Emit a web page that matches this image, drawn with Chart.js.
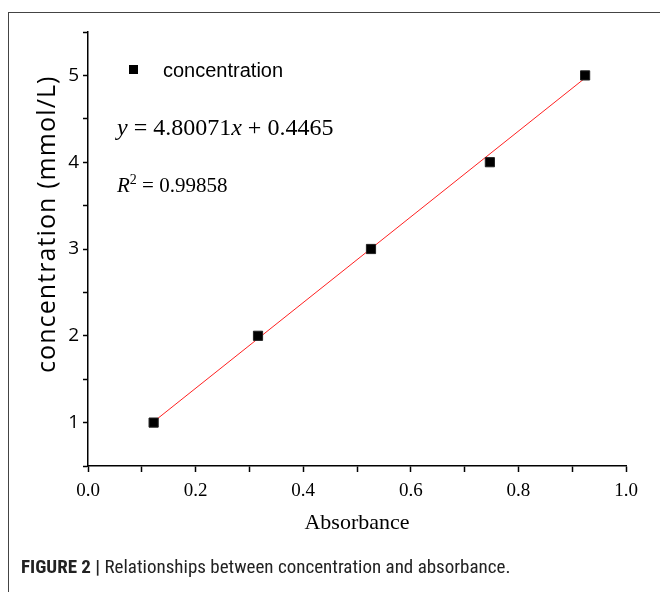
<!DOCTYPE html>
<html>
<head>
<meta charset="utf-8">
<script src="https://cdn.jsdelivr.net/npm/chart.js@4/dist/chart.umd.min.js"></script>
<style>
  body { margin: 0; background: #fff; overflow: hidden; }
  #wrap { position: relative; width: 660px; height: 592px; }
  #frame { position: absolute; left: 8px; top: 12px; width: 700px; height: 700px; border: 1.5px solid #444; }
  #chart { position: absolute; left: 0; top: 0; }
  .note { position: absolute; white-space: nowrap; color: #000; line-height: 1; }
  #legend { left: 129px; top: 59px; font: 20px "Liberation Sans", Arial, sans-serif; }
  #legend span.box { display: inline-block; width: 9px; height: 9px; background: #000; margin-right: 25px; vertical-align: 3px; }
  #eq { left: 117px; top: 114px; font: 24px "Liberation Serif", "Times New Roman", serif; }
  #r2 { left: 117px; top: 173px; font: 21px "Liberation Serif", "Times New Roman", serif; }
  #r2 sup { font-size: 14px; vertical-align: 8px; line-height: 0; }
  #caption { left: 21px; top: 555px; font: 19px "Liberation Sans Narrow", "Roboto Condensed", "Liberation Sans", sans-serif; color: #222; }
</style>
</head>
<body>
<div id="wrap">
  <div id="frame"></div>
  <canvas id="chart" width="660" height="592"></canvas>
  <div class="note" id="legend"><span class="box"></span>concentration</div>
  <div class="note" id="eq"><i>y</i> = 4.80071<i>x</i> + 0.4465</div>
  <div class="note" id="r2"><i>R</i><sup>2</sup> = 0.99858</div>
  <div class="note" id="caption"><b>FIGURE 2 |</b> Relationships between concentration and absorbance.</div>
</div>
<script>
// measured points (absorbance vs concentration)
const absorbance = [0.122, 0.316, 0.526, 0.747, 0.924];
const concentration = [1, 2, 3, 4, 5];

// fitted line endpoints as drawn in the figure
const fitX = [0.122, 0.924];
const fitY = [1.01, 4.97];

const xTitle = 'Absorbance';
const yTitle = 'concentration (mmol/L)';

const pts = absorbance.map((a, i) => ({ x: a, y: concentration[i] }));
const fit = fitX.map((a, i) => ({ x: a, y: fitY[i] }));

// axis titles drawn by hand so they can sit where the original has them
const axisTitles = {
    id: 'axisTitles',
    afterDraw(chart) {
        const c = chart.ctx;
        const area = chart.chartArea;
        c.save();
        c.fillStyle = '#000';
        c.textAlign = 'center';
        c.textBaseline = 'middle';
        c.font = '22px "Liberation Serif", serif';
        c.fillText(xTitle, (area.left + area.right) / 2, 523);
        c.translate(48, area.top + area.height * 0.443);
        c.rotate(-Math.PI / 2);
        c.font = '25px "Open Sans", sans-serif';
        c.letterSpacing = '1.1px';
        c.fillText(yTitle, 0, 0);
        c.restore();
    }
};

new Chart(document.getElementById('chart'), {
    type: 'scatter',
    data: {
        datasets: [
            {
                type: 'line',
                data: fit,
                borderColor: '#ff2020',
                borderWidth: 1,
                pointRadius: 0,
                order: 2
            },
            {
                data: pts,
                pointStyle: 'rect',
                pointRadius: 6.5,
                backgroundColor: '#000',
                borderColor: '#222',
                borderWidth: 1,
                order: 1
            }
        ]
    },
    options: {
        responsive: false,
        animation: false,
        layout: { padding: { top: 32, right: 34, bottom: 0, left: 0 } },
        plugins: { legend: { display: false }, tooltip: { enabled: false } },
        scales: {
            x: {
                type: 'linear',
                min: 0, max: 1,
                afterFit: s => { s.height = 126; },
                border: { color: '#000', width: 1.5 },
                grid: { drawOnChartArea: false, drawTicks: true, tickLength: 6, tickColor: '#000', tickWidth: 1.5 },
                ticks: {
                    stepSize: 0.1,
                    padding: 8,
                    color: '#000',
                    maxRotation: 0,
                    autoSkip: false,
                    font: { family: '"Liberation Serif", serif', size: 19 },
                    callback: (v, i) => i % 2 === 0 ? v.toFixed(1) : ''
                }
            },
            y: {
                type: 'linear',
                min: 0.5, max: 5.5,
                afterFit: s => { s.width = 88; },
                border: { color: '#000', width: 1.5 },
                grid: { drawOnChartArea: false, drawTicks: true, tickLength: 5, tickColor: '#000', tickWidth: 1.5 },
                ticks: {
                    stepSize: 0.5,
                    padding: 4,
                    color: '#000',
                    autoSkip: false,
                    font: { family: '"Open Sans", sans-serif', size: 19 },
                    callback: v => Number.isInteger(v) && v >= 1 && v <= 5 ? String(v) : ''
                }
            }
        }
    },
    plugins: [axisTitles]
});
</script>
</body>
</html>
